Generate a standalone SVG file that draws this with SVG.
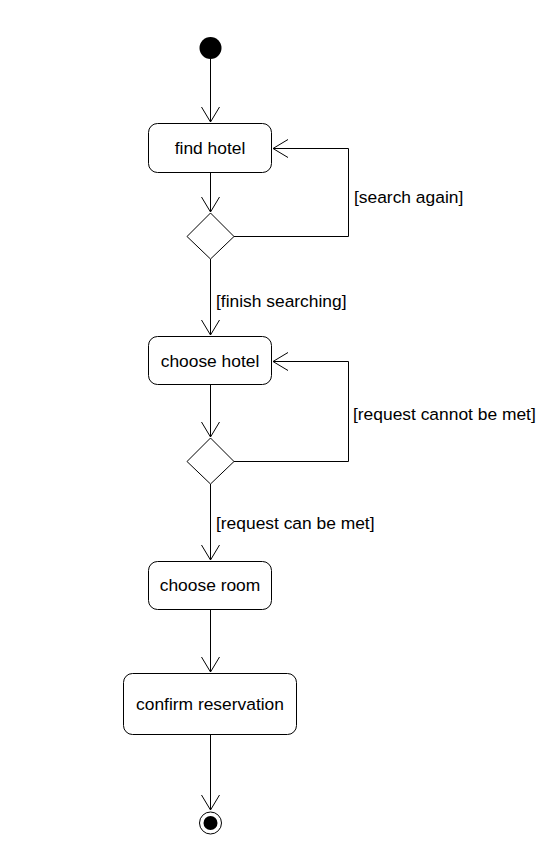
<svg xmlns="http://www.w3.org/2000/svg" width="556" height="860" viewBox="0 0 556 860">
<defs>
<style>
.node rect{fill:#fff;stroke:#000;stroke-width:1}
.node polygon{fill:#fff;stroke:#000;stroke-width:1}
text{font-family:"Liberation Sans",Arial,Helvetica,sans-serif;font-size:17.4px;fill:#000}
.c{text-anchor:middle}
.edge{fill:none;stroke:#000;stroke-width:1}
</style>
<marker id="arr" viewBox="0 0 16 20" refX="15" refY="10" markerWidth="16" markerHeight="20" markerUnits="userSpaceOnUse" orient="auto">
<path d="M0,1 L15,10 L0,19" fill="none" stroke="#000" stroke-width="1"/>
</marker>
</defs>
<rect width="556" height="860" fill="#fff"/>
<g id="connectors">
<path class="edge" d="M210.5,59 V122" marker-end="url(#arr)"/>
<path class="edge" d="M210.5,173 V212" marker-end="url(#arr)"/>
<path class="edge" d="M234,236.5 H348.5 V148.5 H273" marker-end="url(#arr)"/>
<path class="edge" d="M210.5,259 V335" marker-end="url(#arr)"/>
<path class="edge" d="M210.5,385 V437" marker-end="url(#arr)"/>
<path class="edge" d="M234,461.5 H348.5 V361.5 H273" marker-end="url(#arr)"/>
<path class="edge" d="M210.5,484 V560" marker-end="url(#arr)"/>
<path class="edge" d="M210.5,609 V672" marker-end="url(#arr)"/>
<path class="edge" d="M210.5,734 V810" marker-end="url(#arr)"/>
<text x="354" y="203">[search again]</text>
<text x="216" y="307">[finish searching]</text>
<text x="353" y="420">[request cannot be met]</text>
<text x="216" y="529">[request can be met]</text>
</g>
<g id="start" class="node"><circle cx="210.5" cy="48" r="11" fill="#000"/></g>
<g id="find-hotel" class="node"><rect x="148.5" y="123.5" width="123" height="49" rx="9"/><text class="c" x="210" y="154">find hotel</text></g>
<g id="decision1" class="node"><polygon points="210.5,213 234,236.5 210.5,259 187,236.5"/></g>
<g id="choose-hotel" class="node"><rect x="148.5" y="336.5" width="123" height="48" rx="9"/><text class="c" x="210" y="367">choose hotel</text></g>
<g id="decision2" class="node"><polygon points="210.5,438 234,461.5 210.5,484 187,461.5"/></g>
<g id="choose-room" class="node"><rect x="148.5" y="561.5" width="123" height="48" rx="9"/><text class="c" x="210" y="591">choose room</text></g>
<g id="confirm-reservation" class="node"><rect x="123.5" y="673.5" width="173" height="61" rx="9"/><text class="c" x="210" y="710">confirm reservation</text></g>
<g id="end" class="node"><circle cx="210.5" cy="823" r="11" fill="#fff" stroke="#000" stroke-width="1"/><circle cx="210.5" cy="823" r="7" fill="#000"/></g>
</svg>
